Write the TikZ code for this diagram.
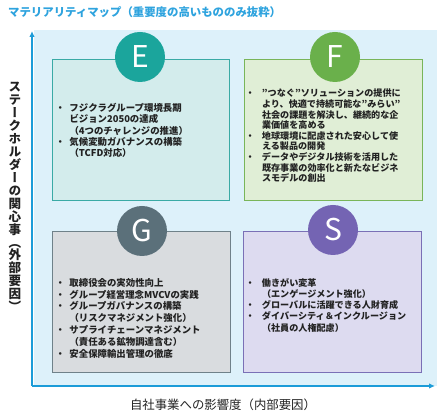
\documentclass[tikz,border=0pt]{standalone}
\usepackage{fontspec}
\setmainfont{Noto Sans CJK JP}
\newfontfamily\vjpfont[RawFeature=+vert]{Noto Sans CJK JP}
\usetikzlibrary{arrows.meta}
\definecolor{bgblue}{HTML}{DDF1FA}
\definecolor{axisblue}{HTML}{1B9CD8}
\definecolor{titleblue}{HTML}{2EA3DE}
\definecolor{Ecirc}{HTML}{1BA59C}
\definecolor{Efill}{HTML}{D3ECEC}
\definecolor{Eline}{HTML}{3AAAA5}
\definecolor{Fcirc}{HTML}{6AB04B}
\definecolor{Ffill}{HTML}{E0EED6}
\definecolor{Fline}{HTML}{79B559}
\definecolor{Gcirc}{HTML}{5B707A}
\definecolor{Gfill}{HTML}{D9DCDF}
\definecolor{Gline}{HTML}{6F8189}
\definecolor{Scirc}{HTML}{7464B3}
\definecolor{Sfill}{HTML}{DDDBF0}
\definecolor{Sline}{HTML}{7A70B6}
\definecolor{txt}{HTML}{222222}
\newcommand\mybul[1]{\makebox[#1][l]{・}}
\begin{document}
\begin{tikzpicture}[x=1pt,y=-1pt,
  qbox/.style={draw, line width=1.1pt, anchor=north west, inner sep=0,
    minimum width=177pt, minimum height=141pt},
  badge/.style={circle, inner sep=0, minimum size=50pt, text=white,
    font=\fontsize{30}{30}\selectfont},
  itemtext/.style={anchor=north west, inner sep=0, align=left, text=txt},
  axis/.style={draw=axisblue, line width=1.8pt, -{Latex[length=6pt,width=5.5pt]}}
]
\useasboundingbox (0,0) rectangle (437,419);
\fill[bgblue] (34,30) rectangle (437,386);

\coordinate (O) at (32,386);
\coordinate (ytip) at (32,31);
\coordinate (xtip) at (435,386);
\draw[axis] (O) -- (ytip);
\draw[axis] (O) -- (xtip);

\node[anchor=west, inner sep=0, text=titleblue, font=\bfseries\fontsize{11.4}{13}\selectfont] (title) at (8,12) {マテリアリティマップ（重要度の高いもののみ抜粋）};

\node[inner sep=0, text=txt, font=\fontsize{12.4}{14}\selectfont] (xlabel) at (223,405) {自社事業への影響度（内部要因）};
\node[inner sep=0, align=center, text=txt, font=\vjpfont\bfseries\fontsize{12.6}{12.95}\selectfont] (ylabel) at (15,197) {ス\\テ\\ー\\ク\\ホ\\ル\\ダ\\ー\\の\\関\\心\\事\\（\\外\\部\\要\\因\\）};

% E
\node[qbox, fill=Efill, draw=Eline] (Ebox) at (52,59) {};
\node[badge, fill=Ecirc] (Ec) at (140,57) {E};
\node[itemtext, font=\bfseries\fontsize{9.4}{11.3}\selectfont] (Et) at (55.3,103) {%
\mybul{14pt}フジクラグループ環境長期\\
\hspace*{14pt}ビジョン2050の達成\\
\hspace*{14pt}（4つのチャレンジの推進）\\
\mybul{14pt}気候変動ガバナンスの構築\\
\hspace*{14pt}（TCFD対応）};

% F
\node[qbox, fill=Ffill, draw=Fline, minimum width=178pt] (Fbox) at (244,59) {};
\node[badge, fill=Fcirc] (Fc) at (335,57) {F};
\node[itemtext, font=\bfseries\fontsize{9.1}{10.6}\selectfont] (Ft) at (245.5,89) {%
\mybul{16.3pt}"つなぐ"ソリューションの提供に\\
\hspace*{16.3pt}より、快適で持続可能な"みらい"\\
\hspace*{16.3pt}社会の課題を解決し、継続的な企\\
\hspace*{16.3pt}業価値を高める\\
\mybul{16.3pt}地球環境に配慮された安心して使\\
\hspace*{16.3pt}える製品の開発\\
\mybul{16.3pt}データやデジタル技術を活用した\\
\hspace*{16.3pt}既存事業の効率化と新たなビジネ\\
\hspace*{16.3pt}スモデルの創出};

% G
\node[qbox, fill=Gfill, draw=Gline, minimum width=178pt] (Gbox) at (52,231) {};
\node[badge, fill=Gcirc] (Gc) at (142,231) {G};
\node[itemtext, font=\bfseries\fontsize{9.4}{11.8}\selectfont] (Gt) at (55.3,278) {%
\mybul{14pt}取締役会の実効性向上\\
\mybul{14pt}グループ経営理念MVCVの実践\\
\mybul{14pt}グループガバナンスの構築\\
\hspace*{14pt}（リスクマネジメント強化）\\
\mybul{14pt}サプライチェーンマネジメント\\
\hspace*{14pt}（責任ある鉱物調達含む）\\
\mybul{14pt}安全保障輸出管理の徹底};

% S
\node[qbox, fill=Sfill, draw=Sline, minimum width=178pt] (Sbox) at (243,231) {};
\node[badge, fill=Scirc] (Sc) at (333,230) {S};
\node[itemtext, font=\bfseries\fontsize{9.1}{11.25}\selectfont] (St) at (245.5,278) {%
\mybul{16.3pt}働きがい変革\\
\hspace*{16.3pt}（エンゲージメント強化）\\
\mybul{16.3pt}グローバルに活躍できる人財育成\\
\mybul{16.3pt}ダイバーシティ＆インクルージョン\\
\hspace*{16.3pt}（社員の人権配慮）};
\end{tikzpicture}
\end{document}
